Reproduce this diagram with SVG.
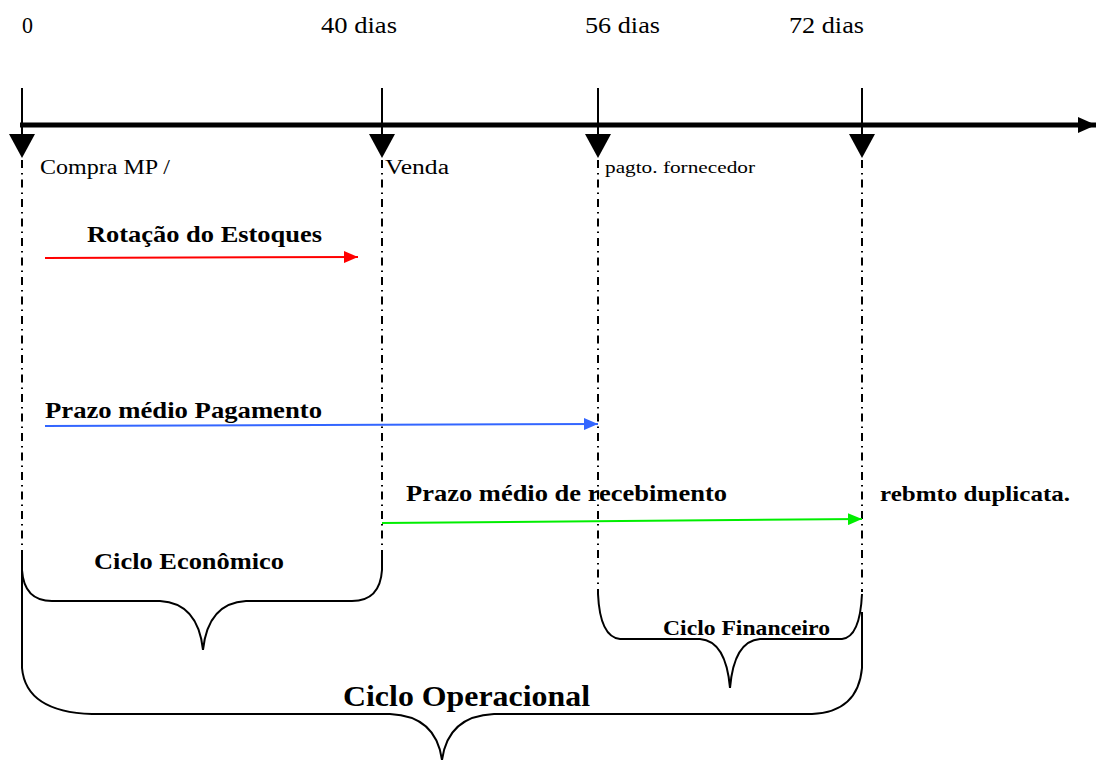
<svg xmlns="http://www.w3.org/2000/svg" width="1096" height="760" viewBox="0 0 1096 760">
<style>
text{font-family:"Liberation Serif","Times New Roman",serif;fill:#000}
.b{font-weight:bold}
.tick{stroke:#000;stroke-width:2;fill:none}
.dash{stroke:#000;stroke-width:2;fill:none;stroke-dasharray:8 5 1.5 5}
.brace{stroke:#000;stroke-width:2;fill:none}
</style>
<defs>
<marker id="mr" markerWidth="14" markerHeight="12" refX="14" refY="6" orient="auto" markerUnits="userSpaceOnUse"><path d="M0,0 L14,6 L0,12 Z" fill="#ff0000"/></marker>
<marker id="mb" markerWidth="14" markerHeight="12" refX="14" refY="6" orient="auto" markerUnits="userSpaceOnUse"><path d="M0,0 L14,6 L0,12 Z" fill="#3366ff"/></marker>
<marker id="mg" markerWidth="14" markerHeight="12" refX="14" refY="6" orient="auto" markerUnits="userSpaceOnUse"><path d="M0,0 L14,6 L0,12 Z" fill="#00ee00"/></marker>
<marker id="mk" markerWidth="18" markerHeight="16" refX="18" refY="8" orient="auto" markerUnits="userSpaceOnUse"><path d="M0,0 L18,8 L0,16 Z" fill="#000"/></marker>
</defs>

<g id="axis">
<line x1="20" y1="125" x2="1096" y2="125" stroke="#000" stroke-width="5" marker-end="url(#mk)"/>
</g>

<g id="ticks">
<g id="t0"><line class="tick" x1="22" y1="88" x2="22" y2="135"/><path d="M9,134 L35,134 L22,158 Z"/><line class="dash" x1="22" y1="160" x2="22" y2="568"/></g>
<g id="t40"><line class="tick" x1="382" y1="88" x2="382" y2="135"/><path d="M369,134 L395,134 L382,158 Z"/><line class="dash" x1="382" y1="160" x2="382" y2="568"/></g>
<g id="t56"><line class="tick" x1="598" y1="88" x2="598" y2="135"/><path d="M585,134 L611,134 L598,158 Z"/><line class="dash" x1="598" y1="160" x2="598" y2="592"/></g>
<g id="t72"><line class="tick" x1="862" y1="88" x2="862" y2="135"/><path d="M849,134 L875,134 L862,158 Z"/><line class="dash" x1="862" y1="160" x2="862" y2="592"/></g>
</g>

<g id="labels-top" font-size="23">
<text x="22" y="33" textLength="11" lengthAdjust="spacingAndGlyphs">0</text>
<text x="321" y="33" textLength="76" lengthAdjust="spacingAndGlyphs">40 dias</text>
<text x="585" y="33" textLength="75" lengthAdjust="spacingAndGlyphs">56 dias</text>
<text x="789" y="33" textLength="75" lengthAdjust="spacingAndGlyphs">72 dias</text>
</g>

<g id="event-labels">
<text x="40" y="174" font-size="20" textLength="130" lengthAdjust="spacingAndGlyphs">Compra MP /</text>
<text x="385" y="174" font-size="20" textLength="64" lengthAdjust="spacingAndGlyphs">Venda</text>
<text x="605" y="173" font-size="17" textLength="150" lengthAdjust="spacingAndGlyphs">pagto. fornecedor</text>
</g>

<g id="connectors">
<line x1="45" y1="258" x2="358" y2="257" stroke="#ff0000" stroke-width="2" marker-end="url(#mr)"/>
<line x1="45" y1="426" x2="598" y2="424" stroke="#3366ff" stroke-width="2" marker-end="url(#mb)"/>
<line x1="382" y1="523" x2="862" y2="519" stroke="#00ee00" stroke-width="2" marker-end="url(#mg)"/>
</g>

<g id="arrow-labels">
<text class="b" x="87" y="242" font-size="24" textLength="235" lengthAdjust="spacingAndGlyphs">Rotação do Estoques</text>
<text class="b" x="45" y="418" font-size="24" textLength="277" lengthAdjust="spacingAndGlyphs">Prazo médio Pagamento</text>
<text class="b" x="406" y="501" font-size="24" textLength="321" lengthAdjust="spacingAndGlyphs">Prazo médio de recebimento</text>
<text class="b" x="880" y="501" font-size="21" textLength="190" lengthAdjust="spacingAndGlyphs">rebmto duplicata.</text>
</g>

<g id="ciclo-economico">
<path class="brace" d="M22,556 L22,570 Q24,601 52,601 L160,601 Q198,603 203,650 Q208,603 246,601 L352,601 Q380,601 382,570 L382,556"/>
<text class="b" x="94" y="569" font-size="24" textLength="190" lengthAdjust="spacingAndGlyphs">Ciclo Econômico</text>
</g>

<g id="ciclo-financeiro">
<path class="brace" d="M598,590 L598,594 Q600,637 620,639 L700,639 Q726,641 730,688 Q734,641 760,639 L842,639 Q860,637 862,594"/>
<text class="b" x="663" y="635" font-size="21" textLength="167" lengthAdjust="spacingAndGlyphs">Ciclo Financeiro</text>
</g>

<g id="ciclo-operacional">
<path class="brace" d="M22,570 L22,668 Q26,712 92,714 L390,714 Q436,716 442,760 Q448,716 494,714 L812,714 Q858,712 862,668 L862,612"/>
<text class="b" x="343" y="706" font-size="29" textLength="247" lengthAdjust="spacingAndGlyphs">Ciclo Operacional</text>
</g>
</svg>
